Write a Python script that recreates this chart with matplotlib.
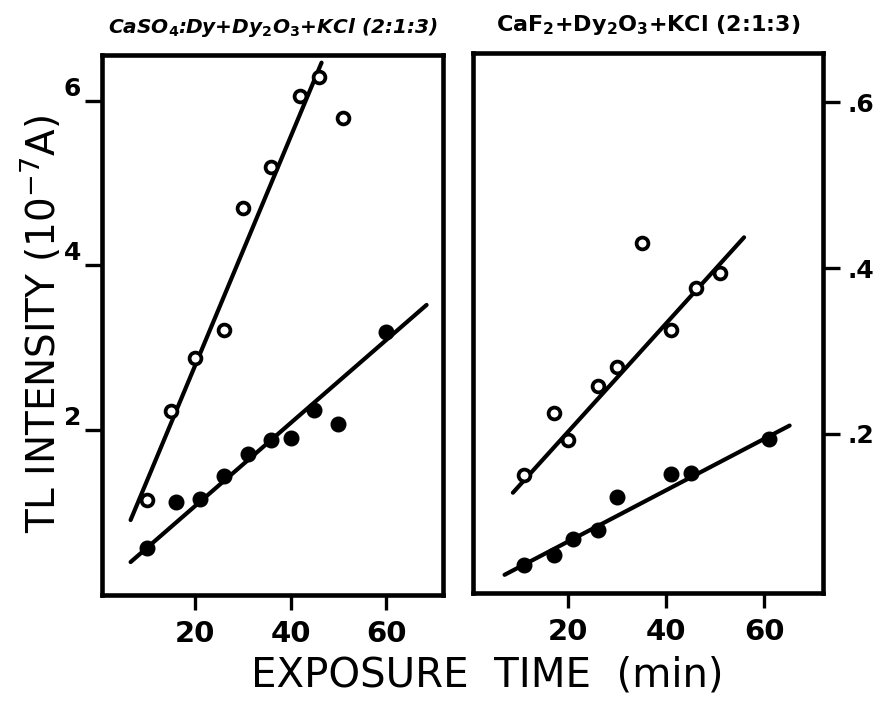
import matplotlib
matplotlib.use("Agg")
import matplotlib.pyplot as plt

# CaSO4:Dy + Dy2O3 + KCl (left panel), units of 1e-7 A
caso4_open_t = [10, 15, 20, 26, 30, 36, 42, 46, 51]
caso4_open_i = [1.15, 2.23, 2.88, 3.22, 4.70, 5.19, 6.05, 6.29, 5.79]
caso4_fill_t = [10, 16, 21, 26, 31, 36, 40, 45, 50, 60]
caso4_fill_i = [0.57, 1.13, 1.16, 1.45, 1.71, 1.88, 1.90, 2.24, 2.07, 3.19]
caso4_open_fit_t = [6.5, 46.5]
caso4_open_fit_i = [0.91, 6.46]
caso4_fill_fit_t = [6.5, 68.5]
caso4_fill_fit_i = [0.40, 3.52]

# CaF2 + Dy2O3 + KCl (right panel)
caf2_open_t = [11, 17, 20, 26, 30, 35, 41, 46, 51]
caf2_open_i = [0.150, 0.225, 0.193, 0.258, 0.281, 0.430, 0.325, 0.376, 0.394]
caf2_fill_t = [11, 17, 21, 26, 30, 41, 45, 61]
caf2_fill_i = [0.042, 0.054, 0.073, 0.084, 0.124, 0.151, 0.153, 0.194]
caf2_open_fit_t = [8.7, 55.9]
caf2_open_fit_i = [0.129, 0.437]
caf2_fill_fit_t = [7.0, 65.2]
caf2_fill_fit_i = [0.030, 0.210]

x_ticks = [20, 40, 60]
left_ticks = [2, 4, 6]
right_ticks = [0.2, 0.4, 0.6]
right_ticklabels = [".2", ".4", ".6"]

fig = plt.figure(figsize=(8.82, 7.01), dpi=100)
ax1 = fig.add_axes([0.1156, 0.1512, 0.387, 0.770])
ax2 = fig.add_axes([0.536, 0.154, 0.397, 0.770])


def draw_panel(ax, ot, oi, ft, fi, oft, ofi, fft, ffi):
    ax.plot(oft, ofi, color="black", lw=3.0, solid_capstyle="round", zorder=2)
    ax.plot(fft, ffi, color="black", lw=3.0, solid_capstyle="round", zorder=2)
    ax.plot(ot, oi, "o", ms=8.5, mfc="white", mec="black", mew=2.7, zorder=3)
    ax.plot(ft, fi, "o", ms=10.5, color="black", zorder=3)
    for s in ax.spines.values():
        s.set_linewidth(3.3)
    ax.set_xlim(0.5, 72)
    ax.set_xticks(x_ticks)
    ax.tick_params(axis="x", direction="out", length=11, width=2.4, pad=7,
                   labelsize=21)
    for lab in ax.get_xticklabels():
        lab.set_fontweight("bold")


draw_panel(ax1, caso4_open_t, caso4_open_i, caso4_fill_t, caso4_fill_i,
           caso4_open_fit_t, caso4_open_fit_i, caso4_fill_fit_t, caso4_fill_fit_i)
ax1.set_ylim(0, 6.55)
ax1.set_yticks(left_ticks)
ax1.set_yticklabels([str(v) for v in left_ticks])
ax1.tick_params(axis="y", direction="out", length=12, width=2.4, pad=3,
                labelsize=18)
for lab in ax1.get_yticklabels():
    lab.set_fontweight("bold")
    lab.set_verticalalignment("bottom")

draw_panel(ax2, caf2_open_t, caf2_open_i, caf2_fill_t, caf2_fill_i,
           caf2_open_fit_t, caf2_open_fit_i, caf2_fill_fit_t, caf2_fill_fit_i)
ax2.set_ylim(0.008, 0.659)
ax2.yaxis.tick_right()
ax2.set_yticks(right_ticks)
ax2.set_yticklabels(right_ticklabels)
ax2.tick_params(axis="y", direction="out", length=12, width=2.4, pad=6,
                labelsize=18)
for lab in ax2.get_yticklabels():
    lab.set_fontweight("bold")
    lab.set_verticalalignment("center_baseline")

# panel titles
ax1.set_title(r"CaSO$_\mathbf{4}$:Dy+Dy$_\mathbf{2}$O$_\mathbf{3}$+KCl (2:1:3)",
              fontsize=14.5, fontweight="bold", style="italic", pad=16)
ax2.set_title(r"CaF$_\mathbf{2}$+Dy$_\mathbf{2}$O$_\mathbf{3}$+KCl (2:1:3)",
              fontsize=16, fontweight="bold", pad=16)

fig.text(0.047, 0.538, r"TL INTENSITY (10$^{-7}$A)", rotation=90,
         fontsize=28, ha="center", va="center")
fig.text(0.553, 0.037, "EXPOSURE  TIME  (min)", fontsize=29, ha="center",
         va="center")

fig.savefig("out.png", dpi=100)
